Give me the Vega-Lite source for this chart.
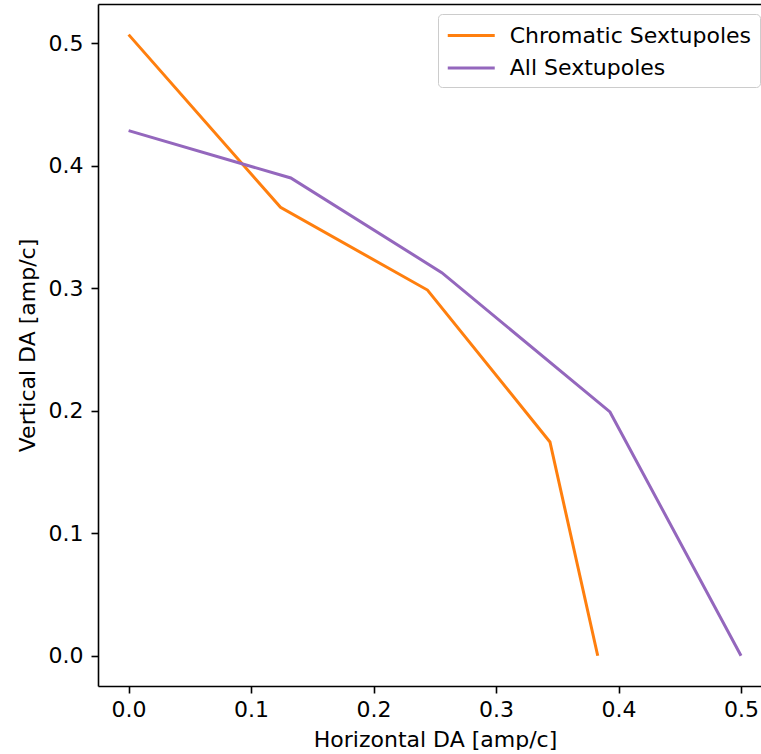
{
  "$schema": "https://vega.github.io/schema/vega-lite/v6.json",
  "autosize": "none",
  "padding": {"left": 98, "top": 4, "right": 0, "bottom": 64},
  "width": 663,
  "height": 682,
  "background": "white",
  "config": {
    "view": {"stroke": null},
    "font": "DejaVu Sans",
    "axis": {
      "grid": false,
      "domainColor": "black",
      "domainWidth": 1.6,
      "tickColor": "black",
      "tickWidth": 1.6,
      "tickSize": 7,
      "labelFont": "DejaVu Sans",
      "labelFontSize": 22,
      "labelColor": "black",
      "titleFont": "DejaVu Sans",
      "titleFontSize": 22,
      "titleFontWeight": "normal",
      "titleColor": "black"
    },
    "legend": {
      "labelFont": "DejaVu Sans",
      "labelFontSize": 22,
      "labelColor": "black"
    }
  },
  "data": {
    "values": [
      {"series": "Chromatic Sextupoles", "h": 0.0, "v": 0.507},
      {"series": "Chromatic Sextupoles", "h": 0.124, "v": 0.366},
      {"series": "Chromatic Sextupoles", "h": 0.244, "v": 0.2985},
      {"series": "Chromatic Sextupoles", "h": 0.344, "v": 0.1745},
      {"series": "Chromatic Sextupoles", "h": 0.383, "v": 0.0},
      {"series": "All Sextupoles", "h": 0.0, "v": 0.4286},
      {"series": "All Sextupoles", "h": 0.1324, "v": 0.390},
      {"series": "All Sextupoles", "h": 0.2557, "v": 0.3127},
      {"series": "All Sextupoles", "h": 0.393, "v": 0.199},
      {"series": "All Sextupoles", "h": 0.5, "v": 0.0}
    ]
  },
  "layer": [
    {
      "mark": {"type": "line", "strokeWidth": 3, "clip": true},
      "encoding": {
        "x": {
          "field": "h", "type": "quantitative",
          "scale": {"domain": [-0.025, 0.5163], "nice": false, "zero": false},
          "axis": {
            "title": "Horizontal DA [amp/c]",
            "values": [0, 0.1, 0.2, 0.3, 0.4, 0.5],
            "format": ".1f",
            "labelPadding": 6,
            "titlePadding": 9,
            "titleX": 337
          }
        },
        "y": {
          "field": "v", "type": "quantitative",
          "scale": {"domain": [-0.0247, 0.532], "nice": false, "zero": false},
          "axis": {
            "title": "Vertical DA [amp/c]",
            "values": [0, 0.1, 0.2, 0.3, 0.4, 0.5],
            "format": ".1f",
            "labelPadding": 8,
            "titlePadding": 9
          }
        },
        "color": {
          "field": "series", "type": "nominal",
          "scale": {"domain": ["Chromatic Sextupoles", "All Sextupoles"], "range": ["#ff7f0e", "#9467bd"]},
          "legend": {
            "title": null,
            "orient": "none",
            "legendX": 340,
            "legendY": 10,
            "symbolType": "M-2,0L2,0",
            "symbolSize": 552,
            "symbolStrokeWidth": 3,
            "symbolOffset": 11.75,
            "labelOffset": 25,
            "labelLimit": 0,
            "rowPadding": 7.5,
            "padding": 8,
            "fillColor": "rgba(255,255,255,0.8)",
            "strokeColor": "#cccccc",
            "cornerRadius": 4
          }
        }
      }
    },
    {
      "mark": {"type": "line", "opacity": 0},
      "encoding": {
        "x": {
          "field": "h", "type": "quantitative",
          "axis": {"orient": "top", "title": null, "labels": false, "ticks": false}
        },
        "y": {"field": "v", "type": "quantitative"}
      }
    }
  ],
  "resolve": {"axis": {"x": "independent", "y": "shared"}}
}
